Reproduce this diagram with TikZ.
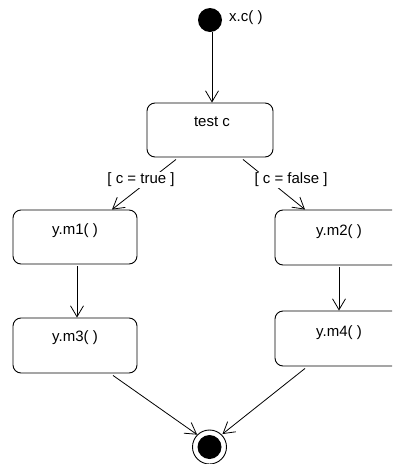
\documentclass[tikz,border=0pt]{standalone}
\usepackage{fontspec}
\setmainfont{Liberation Sans}
\usetikzlibrary{arrows.meta,calc}
\tikzset{
  statebox/.style={draw, rounded corners=8pt, line width=0.9pt, inner sep=0pt},
  boxtext/.style={inner sep=0pt, font=\fontsize{15}{18}\selectfont},
  guard/.style={fill=white, inner sep=1pt, font=\fontsize{15}{18}\selectfont},
  flow/.style={draw, line width=0.8pt, -{Straight Barb[length=11pt,width=13pt,line width=0.8pt]}},
}
\begin{document}
\begin{tikzpicture}[x=1pt,y=-1pt]
\useasboundingbox (0,0) rectangle (392,464);
\clip (0,0) rectangle (392,464);
% initial state
\node[circle, fill=black, minimum size=24pt, inner sep=0pt] (init) at (210,20) {};
\node[boxtext, anchor=west] (initlbl) at (229,18) {x.c( )};
% states
\node[statebox, minimum width=126pt, minimum height=54pt] (tc) at (210,130) {};
\node[boxtext] (tctext) at (212,122) {test c};
\node[statebox, minimum width=124pt, minimum height=54pt] (m1) at (75,237) {};
\node[boxtext] (m1text) at (75,231) {y.m1( )};
\node[statebox, minimum width=124pt, minimum height=55pt] (m3) at (75,345.5) {};
\node[boxtext] (m3text) at (75,338) {y.m3( )};
\node[statebox, minimum width=150pt, minimum height=55pt] (m2) at (350,237.5) {};
\node[boxtext] (m2text) at (339,232) {y.m2( )};
\node[statebox, minimum width=150pt, minimum height=55pt] (m4) at (350,338.5) {};
\node[boxtext] (m4text) at (339,333) {y.m4( )};
% final state
\node[circle, draw, line width=0.9pt, minimum size=34pt, inner sep=0pt] (fin) at (209.5,447) {};
\node[circle, fill=black, minimum size=24pt, inner sep=0pt] (finin) at (209.5,447) {};
% connectors
\draw[flow] ([xshift=2pt]init.south) -- ([xshift=2pt]tc.north);
\draw[flow] ([xshift=-34pt,yshift=-2pt]tc.south) -- ([xshift=37pt]m1.north);
\draw[flow] ([xshift=33pt,yshift=-2pt]tc.south) -- ([xshift=-45pt]m2.north);
\draw[flow] ([xshift=2pt,yshift=-2pt]m1.south) -- ([xshift=2pt]m3.north);
\draw[flow] ([xshift=-11pt,yshift=-2pt]m2.south) -- ([xshift=-11pt]m4.north);
\draw[flow] ([xshift=38pt,yshift=-2pt]m3.south) -- ($(fin.center)!1.0!(fin.north west)$);
\draw[flow] ([xshift=-45pt,yshift=-2pt]m4.south) -- ($(fin.center)!1.05!(fin.north east)$);
% guards
\node[guard] (g1) at (141,180) {[ c = true ]};
\node[guard] (g2) at (291,180) {[ c = false ]};
\end{tikzpicture}
\end{document}
